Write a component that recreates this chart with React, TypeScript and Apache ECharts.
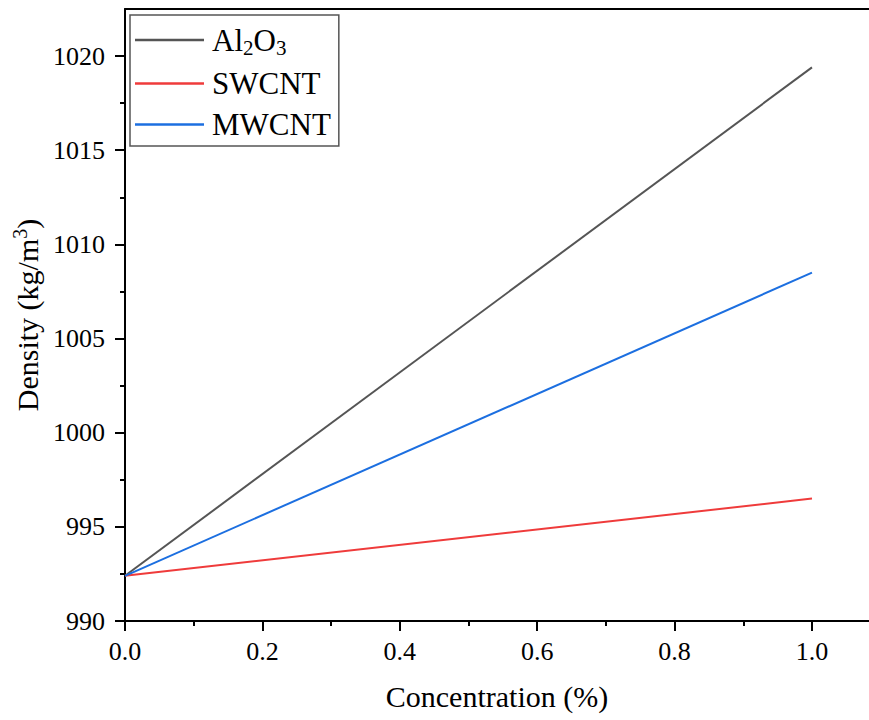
import React, { useEffect, useRef } from "react";
import * as echarts from "echarts";

const concentration = [0, 1.0];
const al2o3 = [992.4, 1019.4];
const swcnt = [992.4, 996.5];
const mwcnt = [992.4, 1008.5];

const seriesNames = ["Al2O3", "SWCNT", "MWCNT"];
const seriesColors = ["#555555", "#ef3b3b", "#1c6fe0"];

const xMajorTicks = [0, 0.2, 0.4, 0.6, 0.8, 1.0];
const xMinorTicks = [0.1, 0.3, 0.5, 0.7, 0.9];
const yMajorTicks = [990, 995, 1000, 1005, 1010, 1015, 1020];
const yMinorTicks = [992.5, 997.5, 1002.5, 1007.5, 1012.5, 1017.5];

const FONT = "Liberation Serif, Times New Roman, serif";

export default function App() {
  const ref = useRef<HTMLDivElement>(null);
  useEffect(() => {
    if (!ref.current) return;
    const chart = echarts.init(ref.current, null, { renderer: "svg" });
    const xMin = 0;
    const xMax = 1.083;
    const yMin = 990;
    const yMax = 1022.5;
    const lineStyleAxis = { color: "#000", width: 2 };
    const toPairs = (ys: number[]) => concentration.map((x, i) => [x, ys[i]]);
    const allSeries = [al2o3, swcnt, mwcnt];
    chart.setOption({
      animation: false,
      backgroundColor: "#fff",
      textStyle: { fontFamily: FONT },
      grid: { left: 125, top: 9, width: 744, height: 612, containLabel: false, outerBoundsMode: "none" },
      legend: {
        orient: "vertical",
        left: 130,
        top: 15,
        padding: [6, 8, 6, 5],
        itemGap: 10,
        itemWidth: 69,
        itemHeight: 2.5,
        icon: "rect",
        borderColor: "#555",
        borderWidth: 1.5,
        data: seriesNames,
        formatter: (name: string) =>
          name === "Al2O3" ? "{n|Al}{s|2}{n|O}{s|3}" : "{n|" + name + "}",
        textStyle: {
          fontFamily: FONT,
          color: "#000",
          padding: [0, 0, 0, 3],
          rich: {
            n: { fontFamily: FONT, fontSize: 31, color: "#000", lineHeight: 36 },
            s: {
              fontFamily: FONT,
              fontSize: 21,
              color: "#000",
              lineHeight: 36,
              verticalAlign: "bottom",
              padding: [16, 0, 0, 0],
            },
          },
        },
      },
      xAxis: [
        {
          type: "value",
          min: xMin,
          max: xMax,
          position: "bottom",
          name: "Concentration (%)",
          nameLocation: "middle",
          nameGap: 60,
          nameTextStyle: { fontFamily: FONT, fontSize: 30, color: "#000" },
          axisLine: { show: true, onZero: false, lineStyle: lineStyleAxis },
          axisTick: {
            show: true,
            inside: false,
            length: 10,
            customValues: xMajorTicks,
            lineStyle: { color: "#000", width: 2 },
          },
          axisLabel: {
            show: true,
            customValues: xMajorTicks,
            margin: 17,
            fontFamily: FONT,
            fontSize: 26,
            color: "#000",
            formatter: (v: number) => v.toFixed(1),
          },
          splitLine: { show: false },
        },
        {
          type: "value",
          min: xMin,
          max: xMax,
          position: "bottom",
          axisLine: { show: false },
          axisTick: {
            show: true,
            inside: false,
            length: 5,
            customValues: xMinorTicks,
            lineStyle: { color: "#000", width: 2 },
          },
          axisLabel: { show: false },
          splitLine: { show: false },
        },
        {
          type: "value",
          min: xMin,
          max: xMax,
          position: "top",
          axisLine: { show: true, onZero: false, lineStyle: lineStyleAxis },
          axisTick: { show: false },
          axisLabel: { show: false },
          splitLine: { show: false },
        },
      ],
      yAxis: [
        {
          type: "value",
          min: yMin,
          max: yMax,
          position: "left",
          name: "{n|Density (kg/m}{s|3}{n|)}",
          nameLocation: "middle",
          nameGap: 76,
          nameRotate: 90,
          nameTextStyle: {
            fontFamily: FONT,
            color: "#000",
            rich: {
              n: { fontFamily: FONT, fontSize: 30, color: "#000", lineHeight: 34 },
              s: {
                fontFamily: FONT,
                fontSize: 20,
                color: "#000",
                lineHeight: 34,
                verticalAlign: "top",
                padding: [0, 0, 10, 0],
              },
            },
          },
          axisLine: { show: true, onZero: false, lineStyle: lineStyleAxis },
          axisTick: {
            show: true,
            inside: false,
            length: 10,
            customValues: yMajorTicks,
            lineStyle: { color: "#000", width: 2 },
          },
          axisLabel: {
            show: true,
            customValues: yMajorTicks,
            margin: 20,
            fontFamily: FONT,
            fontSize: 26,
            color: "#000",
            formatter: (v: number) => String(v),
          },
          splitLine: { show: false },
        },
        {
          type: "value",
          min: yMin,
          max: yMax,
          position: "left",
          axisLine: { show: false },
          axisTick: {
            show: true,
            inside: false,
            length: 5,
            customValues: yMinorTicks,
            lineStyle: { color: "#000", width: 2 },
          },
          axisLabel: { show: false },
          splitLine: { show: false },
        },
      ],
      series: seriesNames.map((name, i) => ({
        name,
        type: "line",
        xAxisIndex: 0,
        yAxisIndex: 0,
        data: toPairs(allSeries[i]),
        showSymbol: false,
        symbol: "none",
        lineStyle: { color: seriesColors[i], width: 2 },
        itemStyle: { color: seriesColors[i] },
        z: 3,
      })),
    });
    return () => chart.dispose();
  }, []);
  return <div ref={ref} style={{ width: 869, height: 720, position: "absolute", left: 0, top: 0 }} />;
}
